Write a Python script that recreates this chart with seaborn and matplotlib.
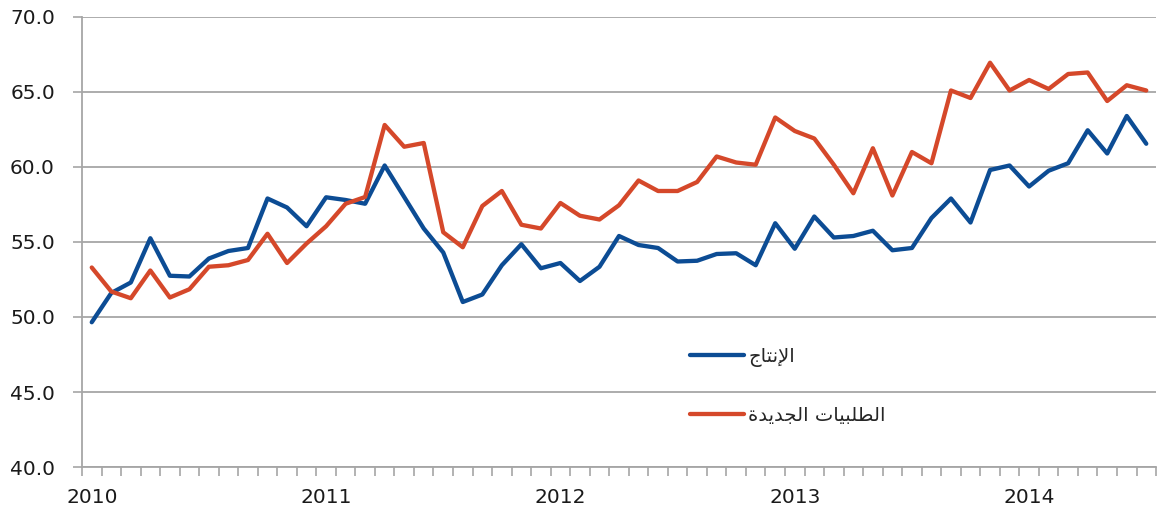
import pandas as pd
import seaborn as sns
import matplotlib.pyplot as plt
from matplotlib.ticker import FixedLocator, FormatStrFormatter

# monthly series, Jan 2010 .. Jul 2014
months = pd.date_range("2010-01-01", "2014-07-01", freq="MS")

production = [
    49.65, 51.6, 52.3, 55.25, 52.75, 52.7, 53.9, 54.4, 54.6, 57.9, 57.3, 56.05,
    57.98, 57.8, 57.55, 60.1, 58.0, 55.9, 54.3, 51.0, 51.5, 53.45, 54.85, 53.25,
    53.6, 52.4, 53.35, 55.4, 54.8, 54.6, 53.7, 53.75, 54.2, 54.25, 53.45, 56.25,
    54.55, 56.7, 55.3, 55.4, 55.75, 54.45, 54.6, 56.6, 57.9, 56.3, 59.8, 60.1,
    58.7, 59.75, 60.25, 62.45, 60.9, 63.4, 61.55,
]
new_orders = [
    53.3, 51.7, 51.25, 53.1, 51.3, 51.85, 53.35, 53.45, 53.8, 55.55, 53.6, 54.9,
    56.05, 57.55, 58.0, 62.8, 61.35, 61.6, 55.65, 54.65, 57.4, 58.4, 56.15, 55.9,
    57.6, 56.75, 56.5, 57.45, 59.1, 58.4, 58.4, 59.0, 60.7, 60.3, 60.15, 63.3,
    62.4, 61.9, 60.15, 58.25, 61.25, 58.1, 61.0, 60.25, 65.1, 64.6, 66.95, 65.1,
    65.8, 65.2, 66.2, 66.3, 64.4, 65.45, 65.1,
]
series_names = ["الإنتاج", "الطلبيات الجديدة"]
year_labels = ["2010", "2011", "2012", "2013", "2014"]
y_ticks = [40, 45, 50, 55, 60, 65, 70]

# matplotlib has no arabic shaping: map letters to presentation forms, then reverse
FORMS = {  # isolated, final, initial, medial
    "ا": ("\uFE8D", "\uFE8E", None, None),
    "إ": ("\uFE87", "\uFE88", None, None),
    "ب": ("\uFE8F", "\uFE90", "\uFE91", "\uFE92"),
    "ة": ("\uFE93", "\uFE94", None, None),
    "ت": ("\uFE95", "\uFE96", "\uFE97", "\uFE98"),
    "ج": ("\uFE9D", "\uFE9E", "\uFE9F", "\uFEA0"),
    "د": ("\uFEA9", "\uFEAA", None, None),
    "ط": ("\uFEC1", "\uFEC2", "\uFEC3", "\uFEC4"),
    "ل": ("\uFEDD", "\uFEDE", "\uFEDF", "\uFEE0"),
    "ن": ("\uFEE5", "\uFEE6", "\uFEE7", "\uFEE8"),
    "ي": ("\uFEF1", "\uFEF2", "\uFEF3", "\uFEF4"),
}
LAM_ALEF = {"ا": ("\uFEFB", "\uFEFC"), "إ": ("\uFEF9", "\uFEFA")}


def links_next(tok):
    kind, c = tok
    return kind == "C" and c in FORMS and FORMS[c][2] is not None


def shape(text):
    out = []
    for w, word in enumerate(text.split(" ")):
        toks = []
        i = 0
        while i < len(word):
            if word[i] == "ل" and i + 1 < len(word) and word[i + 1] in LAM_ALEF:
                toks.append(("LA", word[i + 1]))
                i += 2
            else:
                toks.append(("C", word[i]))
                i += 1
        if w:
            out.append(" ")
        for k, tok in enumerate(toks):
            p = k > 0 and links_next(toks[k - 1])
            n = k + 1 < len(toks) and links_next(tok)
            if tok[0] == "LA":
                out.append(LAM_ALEF[tok[1]][1 if p else 0])
            elif tok[1] not in FORMS:
                out.append(tok[1])
            else:
                iso, fin, ini, med = FORMS[tok[1]]
                out.append(med if p and n else fin if p else ini if n else iso)
    return "".join(reversed(out))


df = pd.DataFrame({"month": months, "idx": range(len(months)),
                   series_names[0]: production, series_names[1]: new_orders})

sns.set_theme(style="white")
plt.rcParams["font.family"] = ["DejaVu Sans"]

fig = plt.figure(figsize=(11.58, 5.15), dpi=100)
ax = fig.add_axes([0.0708, 0.0932, 0.9275, 0.8738])

colors = ["#0c4c94", "#d5482a"]
for name, col in zip(series_names, colors):
    sns.lineplot(data=df, x="idx", y=name, color=col, linewidth=3.1, ax=ax,
                 label=shape(name))

ax.set_xlim(-0.5, len(months) - 0.5)
ax.set_ylim(40, 70)
ax.set_xlabel("")
ax.set_ylabel("")

grid_col = "#a6a6a6"
ax.yaxis.set_major_locator(FixedLocator(y_ticks))
ax.yaxis.set_major_formatter(FormatStrFormatter("%.1f"))
ax.grid(axis="y", color=grid_col, linewidth=1.3)
ax.grid(axis="x", visible=False)
ax.set_axisbelow(True)

year_pos = [i for i, m in enumerate(months) if m.month == 1]
ax.set_xticks(year_pos)
ax.set_xticklabels(year_labels)
ax.set_xticks([i - 0.5 for i in range(len(months) + 1)], minor=True)

ax.tick_params(axis="x", which="major", length=0, pad=15, labelsize=14.5,
               colors="#1a1a1a")
ax.tick_params(axis="x", which="minor", length=6.5, width=1.2, color=grid_col,
               direction="out", bottom=True)
ax.tick_params(axis="y", which="major", length=6.5, width=1.2, color=grid_col,
               pad=13, labelsize=14.5, labelcolor="#1a1a1a", left=True)

for s in ["top", "right"]:
    ax.spines[s].set_visible(False)
for s in ["left", "bottom"]:
    ax.spines[s].set_color(grid_col)
    ax.spines[s].set_linewidth(1.3)

ax.legend(loc="upper left", bbox_to_anchor=(0.566, 0.267), frameon=False,
          fontsize=14, handlelength=2.8, handletextpad=0.2, labelspacing=2.0,
          borderpad=0, borderaxespad=0)

fig.savefig("out.png", dpi=100)
